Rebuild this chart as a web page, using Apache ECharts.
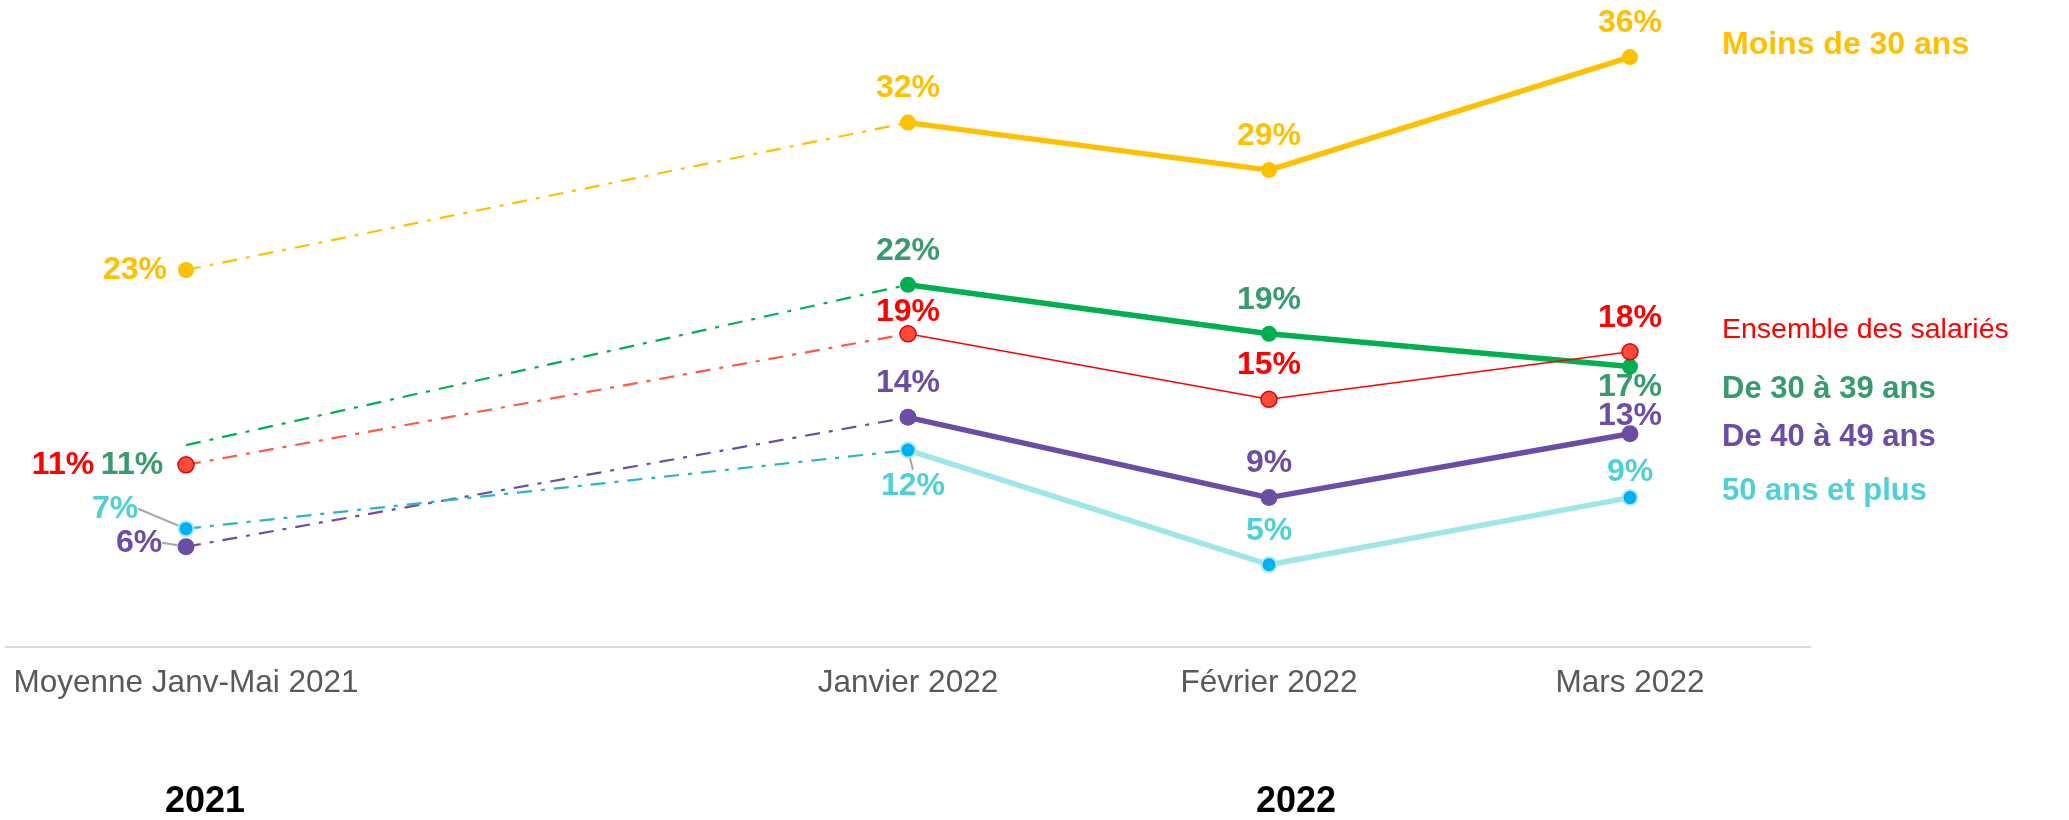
<!DOCTYPE html>
<html>
<head>
<meta charset="utf-8">
<script src="https://cdn.jsdelivr.net/npm/echarts@6/dist/echarts.min.js"></script>
<style>
html, body { margin: 0; padding: 0; background: #fff; }
#chart { width: 2069px; height: 820px; }
</style>
</head>
<body>
<div id="chart"></div>
<script>
// categories (the empty one keeps the 2021 average one step away from 2022)
var categories = ['Moyenne Janv-Mai 2021', '', 'Janvier 2022', 'Février 2022', 'Mars 2022'];
var pointIndex = [0, 2, 3, 4];

var moinsDe30 = [23, 32, 29.1, 36];
var ensemble = [11.1, 19.1, 15.1, 18];
var de30a39 = [12.3, 22.1, 19.1, 17.1];
var de40a49 = [6.1, 14, 9.1, 13];
var plus50 = [7.2, 12, 5, 9.1];

var moinsDe30Labels = ['23%', '32%', '29%', '36%'];
var ensembleLabels = ['11%', '19%', '15%', '18%'];
var de30a39Labels = ['11%', '22%', '19%', '17%'];
var de40a49Labels = ['6%', '14%', '9%', '13%'];
var plus50Labels = ['7%', '12%', '5%', '9%'];

var FONT = 'Liberation Sans, Arial, sans-serif';

function makeSeries(name, values, labels, st) {
    // dash-dot segment 2021 -> Janvier 2022
    var first = { value: [pointIndex[0], values[0]], symbol: 'circle' };
    if (st.hideFirst) {
        // no marker drawn for this point, only its label
        first.symbolSize = 2;
        first.itemStyle = { color: 'rgba(0,0,0,0)', borderWidth: 0 };
    }
    var dashData = [
        first,
        { value: [pointIndex[1], values[1]], symbol: 'none', label: { show: false } }
    ];
    var solidData = [];
    for (var i = 1; i < values.length; i++) {
        solidData.push({ value: [pointIndex[i], values[i]] });
    }
    var labelCfg = function(idxShift) {
        return {
            show: true,
            position: 'inside',
            color: st.labelColor,
            fontFamily: FONT,
            fontWeight: 'bold',
            fontSize: 32,
            formatter: function(p) { return labels[p.dataIndex + idxShift]; }
        };
    };
    var dash = {
        name: name,
        type: 'line',
        z: 2,
        data: dashData,
        symbolSize: st.symbolSize,
        itemStyle: st.itemStyle,
        lineStyle: { color: st.dashColor, width: 2.2, type: [15, 9, 4, 9] },
        label: labelCfg(0),
        labelLayout: function(p) {
            if (p.dataIndex !== 0) return {};
            return { dx: st.offsets[0][0], dy: st.offsets[0][1] };
        },
        labelLine: { show: !!st.leader0, lineStyle: { color: '#A6A6A6', width: 2 } },
        silent: true,
        animation: false
    };
    var solid = {
        name: name,
        type: 'line',
        z: 3,
        data: solidData,
        symbol: 'circle',
        symbolSize: st.symbolSize,
        itemStyle: st.itemStyle,
        lineStyle: { color: st.lineColor, width: st.lineWidth },
        label: labelCfg(1),
        labelLayout: function(p) {
            var o = st.offsets[p.dataIndex + 1];
            return { dx: o[0], dy: o[1] };
        },
        labelLine: { show: !!st.leader1, lineStyle: { color: '#A6A6A6', width: 2 } },
        silent: true,
        animation: false
    };
    if (st.leader1) {
        solid.data.forEach(function(d, k) { if (k > 0) d.labelLine = { show: false }; });
    }
    return [dash, solid];
}

var series = [].concat(
    makeSeries('Moins de 30 ans', moinsDe30, moinsDe30Labels, {
        lineColor: '#FFC000', dashColor: '#FFC000', labelColor: '#FFC000', lineWidth: 5.5, symbolSize: 16,
        itemStyle: { color: '#FFC000' },
        offsets: [[-51, 0], [0, -34], [0, -34], [0, -34]]
    }),
    makeSeries('De 30 à 39 ans', de30a39, de30a39Labels, {
        lineColor: '#00B050', dashColor: '#00B050', labelColor: '#389A6F', lineWidth: 5.5, symbolSize: 16,
        itemStyle: { color: '#00B050' }, hideFirst: true,
        offsets: [[-54, 20], [0, -34], [0, -34], [0, 21]]
    }),
    makeSeries('De 40 à 49 ans', de40a49, de40a49Labels, {
        lineColor: '#6B4DA6', dashColor: '#6B4DA6', labelColor: '#6B4DA6', lineWidth: 5.5, symbolSize: 17,
        itemStyle: { color: '#6B4DA6' }, leader0: true,
        offsets: [[-47, -4], [0, -34], [0, -34], [0, -18]]
    }),
    makeSeries('50 ans et plus', plus50, plus50Labels, {
        lineColor: '#9EE6E8', dashColor: '#2BB5C3', labelColor: '#4FD0D8', lineWidth: 5.5, symbolSize: 15,
        itemStyle: { color: '#00B0F0', borderColor: '#A6ECEF', borderWidth: 2 }, leader0: true, leader1: true,
        offsets: [[-71, -20], [5, 36], [0, -34], [0, -25]]
    }),
    makeSeries('Ensemble des salariés', ensemble, ensembleLabels, {
        lineColor: '#FF0000', dashColor: '#FF5A46', labelColor: '#FF0000', lineWidth: 1.5, symbolSize: 16,
        itemStyle: { color: '#FF4B3A', borderColor: '#E00000', borderWidth: 1.5 },
        offsets: [[-123, 0], [0, -22], [0, -34], [0, -34]]
    })
);

var legendItems = [
    { text: 'Moins de 30 ans', y: 45, color: '#FFC000', weight: 'bold', size: 32 },
    { text: 'Ensemble des salariés', y: 330, color: '#FF0000', weight: 'normal', size: 28.5 },
    { text: 'De 30 à 39 ans', y: 389, color: '#389A6F', weight: 'bold', size: 31 },
    { text: 'De 40 à 49 ans', y: 437, color: '#6B4DA6', weight: 'bold', size: 31 },
    { text: '50 ans et plus', y: 491, color: '#4FD0D8', weight: 'bold', size: 31 }
];

var graphics = legendItems.map(function(it) {
    return {
        type: 'text', x: 1722, y: it.y,
        style: { text: it.text, fill: it.color, fontFamily: FONT, fontWeight: it.weight, fontSize: it.size, verticalAlign: 'middle' }
    };
});
graphics.push({
    type: 'text', x: 205, y: 802,
    style: { text: '2021', fill: '#000', fontFamily: FONT, fontWeight: 'bold', fontSize: 36, align: 'center', verticalAlign: 'middle' }
});
graphics.push({
    type: 'text', x: 1296, y: 802,
    style: { text: '2022', fill: '#000', fontFamily: FONT, fontWeight: 'bold', fontSize: 36, align: 'center', verticalAlign: 'middle' }
});

var option = {
    backgroundColor: '#fff',
    animation: false,
    grid: { left: 5.5, right: 258.5, top: 8, bottom: 173.4 },
    xAxis: {
        type: 'category',
        data: categories,
        boundaryGap: true,
        axisLine: { lineStyle: { color: '#D9D9D9', width: 2 } },
        axisTick: { show: false },
        axisLabel: { color: '#595959', fontFamily: FONT, fontSize: 31.5, margin: 21, interval: 0 }
    },
    yAxis: {
        type: 'value', min: 0, max: 39,
        show: false,
        splitLine: { show: false }
    },
    graphic: graphics,
    series: series
};

var chart = echarts.init(document.getElementById('chart'));
chart.setOption(option);
</script>
</body>
</html>
